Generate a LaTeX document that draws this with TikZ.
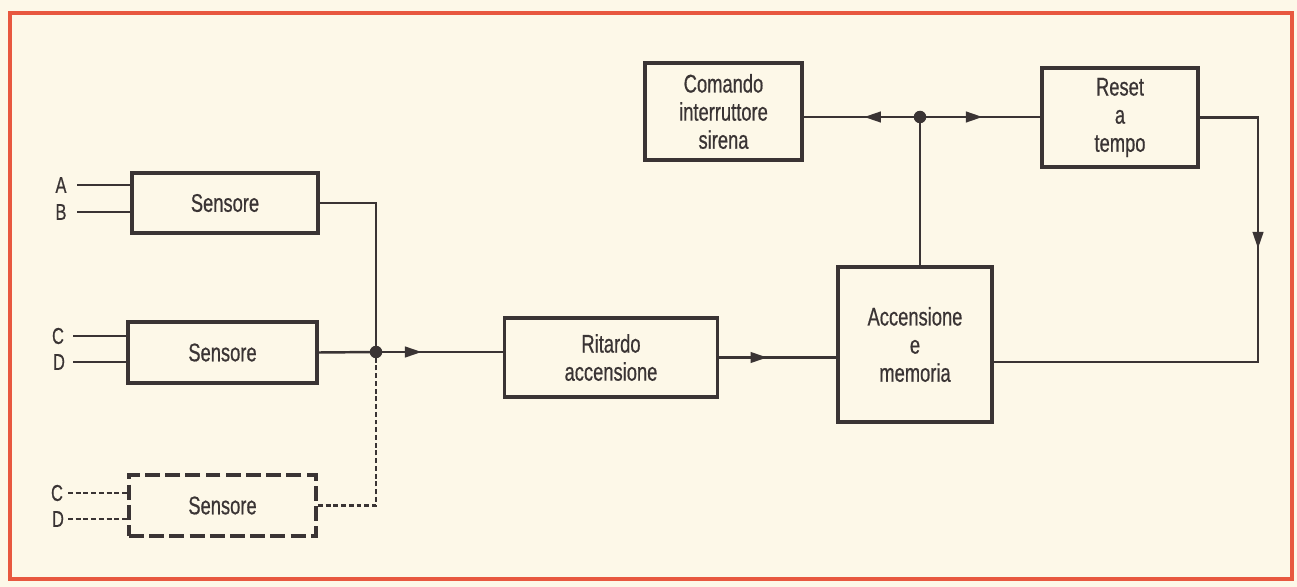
\documentclass[tikz,border=0pt]{standalone}
\usepackage{fontspec}
\setmainfont{Liberation Sans}[FakeStretch=0.72,FakeBold=0.6]
\usetikzlibrary{arrows.meta,decorations.markings,calc}
\definecolor{paper}{HTML}{FDF8E8}
\definecolor{framered}{HTML}{E8583F}
\definecolor{ink}{HTML}{3A3434}

\begin{document}
\begin{tikzpicture}
[x=0.02cm, y=-0.02cm,
block/.style={rectangle,draw=ink,line width=1.9pt,fill=paper,align=center,text=ink,font=\fontsize{14.5}{16}\selectfont},
dashblock/.style={block,line width=2.2pt,dash pattern=on 8.5pt off 3pt},
wire/.style={draw=ink,line width=1.4pt},
dashwire/.style={wire,line width=1.2pt,dash pattern=on 2.8pt off 1.6pt},
inlabel/.style={text=ink,inner sep=0pt,font=\fontsize{13}{15}\selectfont},
dot/.style={circle,fill=ink,inner sep=0pt,minimum size=0.25cm},
midarrow/.style={postaction={decorate},decoration={markings,
  mark=at position #1 with {\arrow{Triangle[length=9.5pt,width=6pt]}}}}
]
% fondo e cornice
\fill[paper] (0,0) rectangle (1297,587);
\useasboundingbox (0,0) rectangle (1297,587);
\draw[framered,line width=2.4pt] (10,13) rectangle (1292,579);

% blocchi
\node[block,minimum width=3.72cm,minimum height=1.2cm] (sens1) at (225,203) {Sensore};
\node[block,minimum width=3.78cm,minimum height=1.22cm] (sens2) at (222.5,352.5) {Sensore};
\node[dashblock,minimum width=3.74cm,minimum height=1.22cm] (sens3) at (222.5,505.5) {Sensore};
\node[block,minimum width=4.26cm,minimum height=1.58cm] (ritardo) at (611,357.5) {Ritardo\\accensione};
\node[block,minimum width=3.08cm,minimum height=3.1cm] (accens) at (915,344.5) {Accensione\\e\\memoria};
\node[block,minimum width=3.14cm,minimum height=1.94cm] (comando) at (723.5,111.5) {Comando\\interruttore\\sirena};
\node[block,minimum width=3.12cm,minimum height=1.98cm] (reset) at (1120,117.5) {Reset\\a\\tempo};

% ingressi
\node[inlabel] (lA) at (61,185) {A};
\node[inlabel] (lB) at (61,212) {B};
\node[inlabel] (lC) at (58,336) {C};
\node[inlabel] (lD) at (59,362) {D};
\node[inlabel] (lC2) at (57,493) {C};
\node[inlabel] (lD2) at (58,519) {D};
\coordinate (inA) at (77,185);
\coordinate (inB) at (77,212);
\coordinate (inC) at (73,336);
\coordinate (inD) at (73,362);
\coordinate (inC2) at (68,493);
\coordinate (inD2) at (68,519);
\draw[wire] (inA) -- (inA -| sens1.west);
\draw[wire] (inB) -- (inB -| sens1.west);
\draw[wire] (inC) -- (inC -| sens2.west);
\draw[wire] (inD) -- (inD -| sens2.west);
\draw[dashwire] (inC2) -- (inC2 -| sens3.west);
\draw[dashwire] (inD2) -- (inD2 -| sens3.west);

% nodi di giunzione
\node[dot] (j1) at (376,352) {};
\node[dot] (j2) at (920,117) {};
\coordinate (ret) at (1258,362);

% collegamenti
\draw[wire] (sens1.east) -| (j1.center);
\draw[wire] (sens2.east) -- (j1.center);
\draw[dashwire] (sens3.east) -| (j1.center);
\draw[wire,midarrow=0.36] (j1.center) -- (j1.center -| ritardo.west);
\draw[wire,midarrow=0.41] (ritardo.east) -- (ritardo.east -| accens.west);
\draw[wire] (j2.center) -- (j2.center |- accens.north);
\draw[wire,midarrow=0.48] (j2.center) -- (j2.center -| comando.east);
\draw[wire,midarrow=0.52] (j2.center) -- (j2.center -| reset.west);
\draw[wire,midarrow=0.334] (reset.east) -| (ret) -- (ret -| accens.east);
\end{tikzpicture}
\end{document}
